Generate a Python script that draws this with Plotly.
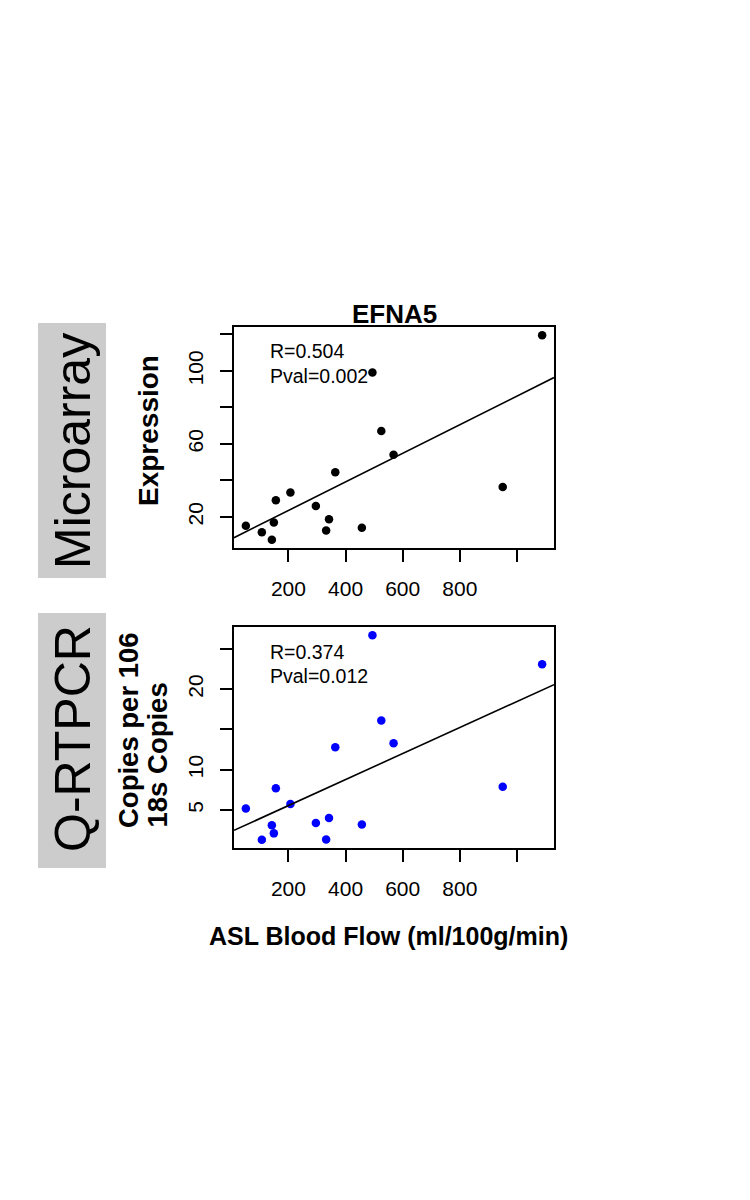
import plotly.graph_objects as go

# ---- data ----
flow = [51, 107, 142, 149, 156, 207, 296, 332, 342, 364, 457, 494, 525, 568, 950, 1088]
expression = [15.1, 11.6, 7.4, 16.9, 29.1, 33.3, 26.0, 12.5, 18.7, 44.5, 14.0, 99.1, 67.1, 54.1, 36.4, 119.6]
copies = [5.2, 1.3, 3.1, 2.1, 7.7, 5.75, 3.4, 1.35, 4.0, 12.8, 3.2, 26.7, 16.1, 13.3, 7.9, 23.1]

fit_top = {"intercept": 7.8, "slope": 0.0784}
fit_bot = {"intercept": 2.32, "slope": 0.01615}

x_ticks = [200, 400, 600, 800, 1000]
x_ticktext = ["200", "400", "600", "800", ""]
y_top_ticks = [20, 40, 60, 80, 100, 120]
y_top_ticktext = ["20", "", "60", "", "100", ""]
y_bot_ticks = [5, 10, 15, 20, 25]
y_bot_ticktext = ["5", "10", "", "20", ""]

stats_top = ["R=0.504", "Pval=0.002"]
stats_bot = ["R=0.374", "Pval=0.012"]

W, H = 750, 1200
FONT = "Liberation Sans, Arial, Helvetica, sans-serif"


def rng(v):
    lo, hi = min(v), max(v)
    pad = (hi - lo) * 0.04
    return [lo - pad, hi + pad]


def px(x):
    return x / W


def py(y):
    return 1 - y / H


xr = rng(flow)

fig = go.Figure()

fig.add_trace(go.Scatter(x=flow, y=expression, mode="markers",
                         marker=dict(color="black", size=8.5), xaxis="x", yaxis="y",
                         showlegend=False, hoverinfo="skip"))
fig.add_trace(go.Scatter(x=xr, y=[fit_top["intercept"] + fit_top["slope"] * v for v in xr],
                         mode="lines", line=dict(color="black", width=1.6),
                         xaxis="x", yaxis="y", showlegend=False, hoverinfo="skip"))
fig.add_trace(go.Scatter(x=flow, y=copies, mode="markers",
                         marker=dict(color="#0000ff", size=8.5), xaxis="x2", yaxis="y2",
                         showlegend=False, hoverinfo="skip"))
fig.add_trace(go.Scatter(x=xr, y=[fit_bot["intercept"] + fit_bot["slope"] * v for v in xr],
                         mode="lines", line=dict(color="black", width=1.6),
                         xaxis="x2", yaxis="y2", showlegend=False, hoverinfo="skip"))

axis_common = dict(showgrid=False, zeroline=False, showline=True, mirror=True,
                   linecolor="black", linewidth=1.5, ticks="outside", ticklen=12,
                   tickwidth=1.5, tickcolor="black",
                   tickfont=dict(family=FONT, size=21, color="black"),
                   ticklabelstandoff=9)

xdom = [px(234), px(554)]
fig.update_layout(
    width=W, height=H, autosize=False,
    margin=dict(l=0, r=0, t=0, b=0),
    paper_bgcolor="white", plot_bgcolor="white",
    xaxis=dict(domain=xdom, range=xr, tickvals=x_ticks, ticktext=x_ticktext,
               anchor="y", **axis_common),
    yaxis=dict(domain=[py(548), py(327)], range=rng(expression), tickvals=y_top_ticks,
               ticktext=y_top_ticktext, tickangle=-90, anchor="x", **axis_common),
    xaxis2=dict(domain=xdom, range=xr, tickvals=x_ticks, ticktext=x_ticktext,
                anchor="y2", **axis_common),
    yaxis2=dict(domain=[py(848), py(627)], range=rng(copies), tickvals=y_bot_ticks,
                ticktext=y_bot_ticktext, tickangle=-90, anchor="x2", **axis_common),
)

# gray side boxes
for y0, y1 in [(323, 578), (613, 868)]:
    fig.add_shape(type="rect", xref="paper", yref="paper",
                  x0=px(38), x1=px(106), y0=py(y1), y1=py(y0),
                  fillcolor="#cccccc", line=dict(width=0), layer="below")

ann = []


def add_text(text, x, y, size, bold=False, angle=0, xanchor="center", yanchor="middle"):
    t = f"<b>{text}</b>" if bold else text
    ann.append(dict(text=t, x=px(x), y=py(y), xref="paper", yref="paper",
                    showarrow=False, textangle=angle, xanchor=xanchor, yanchor=yanchor,
                    font=dict(family=FONT, size=size, color="black")))


add_text("Microarray", 73, 451, 50, angle=-90)
add_text("Q-RTPCR", 73, 739, 50, angle=-90)
add_text("EFNA5", 394, 314, 26, bold=True)
add_text("Expression", 149, 431, 28, bold=True, angle=-90)
add_text("Copies per 106", 128, 830, 27.5, bold=True, angle=-90, yanchor="bottom")
add_text("18s Copies", 157, 830, 27.5, bold=True, angle=-90, yanchor="bottom")
add_text("ASL Blood Flow (ml/100g/min)", 388, 936, 25, bold=True)
add_text(stats_top[0], 268, 351, 19.5, xanchor="left")
add_text(stats_top[1], 268, 376, 19.5, xanchor="left")
add_text(stats_bot[0], 268, 652, 19.5, xanchor="left")
add_text(stats_bot[1], 268, 676, 19.5, xanchor="left")

fig.update_layout(annotations=ann)

fig.write_html("out.html", config={"displayModeBar": False},
               post_script="document.body.style.margin='0px';document.body.style.padding='0px';")
